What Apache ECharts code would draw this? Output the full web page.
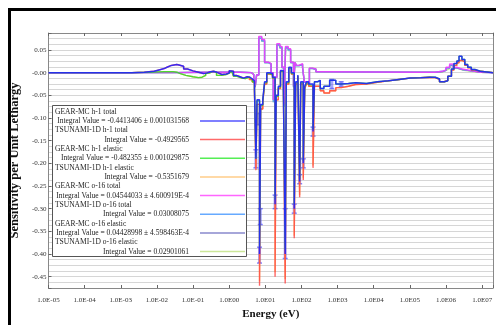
<!DOCTYPE html>
<html>
<head>
<meta charset="utf-8" />
<title>Sensitivity per Unit Lethargy</title>
<script src="https://cdn.jsdelivr.net/npm/echarts@6/dist/echarts.min.js"></script>
<style>
  html, body { margin: 0; padding: 0; background: #fff; }
  #main { width: 496px; height: 325px; }
</style>
</head>
<body>
<div id="main"></div>
<script type="text/javascript">
// energies are log10(E / eV), values are sensitivity per unit lethargy
var xTickLabels = ['1.0E-05', '1.0E-04', '1.0E-03', '1.0E-02', '1.0E-01', '1.0E00', '1.0E01',
                   '1.0E02', '1.0E03', '1.0E04', '1.0E05', '1.0E06', '1.0E07'];
var yTickValues = [-0.45, -0.40, -0.35, -0.30, -0.25, -0.20, -0.15, -0.10, -0.05, 0, 0.05];
var yTickLabels = ['-0.45', '-0.40', '-0.35', '-0.30', '-0.25', '-0.20', '-0.15', '-0.10', '-0.05', '-0.00', '0.05'];

var seriesNames = ['GEAR-MC h-1 total', 'TSUNAMI-1D h-1 total', 'GEAR-MC h-1 elastic', 'TSUNAMI-1D h-1 elastic',
                   'GEAR-MC o-16 total', 'TSUNAMI-1D o-16 total', 'GEAR-MC o-16 elastic', 'TSUNAMI-1D o-16 elastic'];
var integralTexts = ['Integral Value = -0.4413406 \u00b1 0.001031568', 'Integral Value = -0.4929565',
                     'Integral Value = -0.482355 \u00b1 0.001029875', 'Integral Value = -0.5351679',
                     'Integral Value = 0.04544033 \u00b1 4.600919E-4', 'Integral Value = 0.03008075',
                     'Integral Value = 0.04428998 \u00b1 4.598463E-4', 'Integral Value = 0.02901061'];

var gearH1Total = [[-5,0],[-2.7,0.001],[-2.35,0.003],[-2.08,0.006],[-1.94,0.009],[-1.8,0.012],[-1.72,0.016],[-1.6,0.018],
  [-1.45,0.017],[-1.39,0.014],[-1.26,0.008],[-1.15,0.004],[-1.0,0.001],[-0.85,-0.002],[-0.71,-0.001],[-0.62,0.002],
  [-0.52,0.003],[-0.42,0.0],[-0.32,-0.004],[-0.2,-0.003],[-0.08,-0.001],[0.0,0.004],[0.05,0.003],[0.12,-0.006],
  [0.2,-0.009],[0.3,-0.012],[0.4,-0.009],[0.5,-0.01],[0.57,-0.014],[0.64,-0.018],[0.70,-0.035],[0.74,-0.19],
  [0.77,-0.06],[0.84,-0.40],[0.87,-0.07],[0.93,-0.06],[0.98,-0.02],[1.04,0.0],[1.12,-0.002],[1.20,-0.01],
  [1.27,-0.29],[1.30,-0.05],[1.36,-0.03],[1.42,0.005],[1.50,-0.03],[1.55,-0.40],[1.58,-0.02],[1.65,0.012],
  [1.72,0.0],[1.80,-0.30],[1.84,-0.02],[1.90,-0.005],[1.95,-0.24],[1.98,-0.02],[2.05,-0.20],[2.09,-0.03],
  [2.14,-0.02],[2.20,-0.025],[2.32,-0.13],[2.36,-0.02],[2.45,-0.017],[2.52,-0.035],[2.62,-0.03],[2.78,-0.017],
  [2.95,-0.025],[3.1,-0.024],[3.3,-0.022],[3.5,-0.024],[3.8,-0.02],[4.1,-0.018],[4.4,-0.015],[4.7,-0.012],
  [5.0,-0.011],[5.3,-0.01],[5.55,-0.01],[5.7,-0.014],[5.82,-0.02],[5.95,-0.018],[6.05,-0.008],[6.15,0.008],
  [6.22,0.02],[6.3,0.026],[6.36,0.036],[6.44,0.029],[6.52,0.018],[6.6,0.012],[6.7,0.007],[6.8,0.003],[6.95,0],[7.3,0]];

var tsunamiH1Total = [[-5,0],[-2.7,0.001],[-2.35,0.003],[-2.08,0.006],[-1.94,0.009],[-1.8,0.012],[-1.72,0.016],[-1.6,0.018],
  [-1.45,0.017],[-1.39,0.014],[-1.26,0.008],[-1.15,0.004],[-1.0,0.001],[-0.85,-0.002],[-0.71,-0.001],[-0.62,0.002],
  [-0.52,0.003],[-0.42,0.0],[-0.32,-0.004],[-0.2,-0.003],[-0.08,-0.001],[0.0,0.004],[0.05,0.003],[0.12,-0.006],
  [0.2,-0.009],[0.3,-0.012],[0.4,-0.009],[0.5,-0.01],[0.57,-0.015],[0.64,-0.02],[0.70,-0.04],[0.74,-0.215],
  [0.77,-0.07],[0.84,-0.47],[0.87,-0.08],[0.93,-0.065],[0.98,-0.025],[1.04,-0.003],[1.12,-0.005],[1.20,-0.012],
  [1.27,-0.45],[1.30,-0.06],[1.36,-0.035],[1.42,0.003],[1.50,-0.035],[1.55,-0.465],[1.58,-0.025],[1.65,0.01],
  [1.72,-0.003],[1.80,-0.365],[1.84,-0.025],[1.90,-0.008],[1.95,-0.275],[1.98,-0.025],[2.05,-0.237],[2.09,-0.035],
  [2.14,-0.025],[2.20,-0.03],[2.32,-0.21],[2.36,-0.03],[2.45,-0.03],[2.52,-0.04],[2.62,-0.045],[2.78,-0.04],
  [2.95,-0.033],[3.1,-0.03],[3.3,-0.026],[3.5,-0.025],[3.8,-0.021],[4.1,-0.018],[4.4,-0.015],[4.7,-0.012],
  [5.0,-0.011],[5.3,-0.01],[5.55,-0.011],[5.7,-0.015],[5.82,-0.02],[5.95,-0.017],[6.05,-0.008],[6.15,0.006],
  [6.22,0.016],[6.3,0.022],[6.36,0.027],[6.44,0.024],[6.52,0.016],[6.6,0.011],[6.7,0.006],[6.8,0.003],[6.95,0],[7.3,0]];

var gearH1Elastic = [[-5,0],[-2.7,0.001],[-2.2,0.002],[-1.8,0.002],[-1.55,0.001],[-1.45,-0.002],[-1.35,-0.006],
  [-1.2,-0.009],[-1.0,-0.011],[-0.85,-0.01],[-0.75,-0.006],[-0.65,-0.001],[-0.55,0.003],[-0.45,0.001],[-0.35,-0.006],
  [-0.22,-0.004],[-0.08,-0.001],[0.0,0.003],[0.07,0.001],[0.12,-0.008],[0.22,-0.012],[0.35,-0.013],[0.45,-0.01],
  [0.55,-0.014],[0.64,-0.02],[0.70,-0.036],[0.74,-0.19],[0.77,-0.062],[0.84,-0.385],[0.87,-0.072],[0.93,-0.062],
  [0.98,-0.022],[1.04,-0.002],[1.12,-0.004],[1.20,-0.012],[1.27,-0.28],[1.30,-0.052],[1.36,-0.032],[1.42,0.003],
  [1.50,-0.032],[1.55,-0.39],[1.58,-0.022],[1.65,0.01],[1.72,-0.002],[1.80,-0.29],[1.84,-0.022],[1.90,-0.007],
  [1.95,-0.235],[1.98,-0.022],[2.05,-0.195],[2.09,-0.032],[2.14,-0.022],[2.20,-0.027],[2.32,-0.125],[2.36,-0.02],
  [2.45,-0.017],[2.52,-0.035],[2.62,-0.03],[2.78,-0.017],[2.95,-0.025],[3.1,-0.024],[3.3,-0.022],[3.5,-0.024],
  [3.8,-0.02],[4.1,-0.018],[4.4,-0.015],[4.7,-0.012],[5.0,-0.011],[5.3,-0.01],[5.55,-0.01],[5.7,-0.014],
  [5.82,-0.02],[5.95,-0.018],[6.05,-0.008],[6.15,0.008],[6.22,0.02],[6.3,0.026],[6.36,0.036],[6.44,0.029],
  [6.52,0.018],[6.6,0.012],[6.7,0.007],[6.8,0.003],[6.95,0],[7.3,0]];

var tsunamiH1Elastic = [[-5,0],[-2.7,0.001],[-2.2,0.002],[-1.8,0.002],[-1.55,0.001],[-1.45,-0.002],[-1.35,-0.006],
  [-1.2,-0.009],[-1.0,-0.011],[-0.85,-0.01],[-0.75,-0.006],[-0.65,-0.001],[-0.55,0.003],[-0.45,0.001],[-0.35,-0.006],
  [-0.22,-0.004],[-0.08,-0.001],[0.0,0.003],[0.07,0.001],[0.12,-0.008],[0.22,-0.012],[0.35,-0.013],[0.45,-0.01],
  [0.55,-0.015],[0.64,-0.021],[0.70,-0.04],[0.74,-0.21],[0.77,-0.07],[0.84,-0.46],[0.87,-0.08],[0.93,-0.065],
  [0.98,-0.025],[1.04,-0.003],[1.12,-0.005],[1.20,-0.012],[1.27,-0.44],[1.30,-0.06],[1.36,-0.035],[1.42,0.003],
  [1.50,-0.035],[1.55,-0.455],[1.58,-0.025],[1.65,0.01],[1.72,-0.003],[1.80,-0.36],[1.84,-0.025],[1.90,-0.008],
  [1.95,-0.27],[1.98,-0.025],[2.05,-0.232],[2.09,-0.035],[2.14,-0.025],[2.20,-0.03],[2.32,-0.205],[2.36,-0.03],
  [2.45,-0.03],[2.52,-0.04],[2.62,-0.045],[2.78,-0.04],[2.95,-0.033],[3.1,-0.03],[3.3,-0.026],[3.5,-0.025],
  [3.8,-0.021],[4.1,-0.018],[4.4,-0.015],[4.7,-0.012],[5.0,-0.011],[5.3,-0.01],[5.55,-0.011],[5.7,-0.015],
  [5.82,-0.02],[5.95,-0.017],[6.05,-0.008],[6.15,0.006],[6.22,0.016],[6.3,0.022],[6.36,0.027],[6.44,0.024],
  [6.52,0.016],[6.6,0.011],[6.7,0.006],[6.8,0.003],[6.95,0],[7.3,0]];

var gearO16Total = [[-5,0],[-1.6,0.001],[-0.5,0.001],[0.3,0.0],[0.62,-0.004],[0.68,-0.014],[0.72,-0.03],[0.76,-0.005],
  [0.82,0.08],[0.90,0.073],[0.98,0.023],[1.08,0.02],[1.16,0.0],[1.22,-0.06],[1.26,-0.01],[1.32,0.064],[1.40,0.058],
  [1.46,0.012],[1.52,-0.07],[1.56,0.058],[1.63,0.053],[1.70,0.023],[1.78,-0.03],[1.82,0.023],[1.86,0.016],
  [1.93,0.012],[1.98,0.02],[2.03,0.012],[2.08,-0.02],[2.14,-0.024],[2.22,0.01],[2.30,0.008],[2.40,0.002],
  [2.6,0.001],[5.3,0.001],[5.7,0.003],[5.9,0.006],[6.0,0.012],[6.1,0.019],[6.2,0.012],[6.3,0.008],[6.45,0.006],
  [6.6,0.003],[6.8,0.001],[6.95,0],[7.3,0]];

var tsunamiO16Total = [[-5,0],[-1.6,0.001],[-0.5,0.001],[0.3,0.0],[0.62,-0.004],[0.68,-0.015],[0.72,-0.032],[0.76,-0.005],
  [0.82,0.076],[0.90,0.07],[0.98,0.022],[1.08,0.019],[1.16,0.0],[1.22,-0.065],[1.26,-0.01],[1.32,0.061],[1.40,0.055],
  [1.46,0.011],[1.52,-0.075],[1.56,0.055],[1.63,0.05],[1.70,0.022],[1.78,-0.032],[1.82,0.022],[1.86,0.015],
  [1.93,0.011],[1.98,0.018],[2.03,0.011],[2.08,-0.021],[2.14,-0.025],[2.22,0.009],[2.30,0.007],[2.40,0.002],
  [2.6,0.001],[5.3,0.001],[5.7,0.003],[5.9,0.005],[6.0,0.011],[6.1,0.017],[6.2,0.011],[6.3,0.007],[6.45,0.005],
  [6.6,0.003],[6.8,0.001],[6.95,0],[7.3,0]];

var gearO16Elastic = [[-5,0],[-1.6,0.001],[-0.5,0.001],[0.3,0.0],[0.62,-0.004],[0.68,-0.014],[0.72,-0.03],[0.76,-0.005],
  [0.82,0.079],[0.90,0.072],[0.98,0.023],[1.08,0.02],[1.16,0.0],[1.22,-0.06],[1.26,-0.01],[1.32,0.063],[1.40,0.057],
  [1.46,0.012],[1.52,-0.07],[1.56,0.057],[1.63,0.052],[1.70,0.023],[1.78,-0.03],[1.82,0.023],[1.86,0.016],
  [1.93,0.012],[1.98,0.019],[2.03,0.012],[2.08,-0.02],[2.14,-0.024],[2.22,0.01],[2.30,0.008],[2.40,0.002],
  [2.6,0.001],[5.3,0.001],[5.7,0.002],[5.9,0.005],[6.0,0.01],[6.1,0.016],[6.2,0.01],[6.3,0.007],[6.45,0.005],
  [6.6,0.003],[6.8,0.001],[6.95,0],[7.3,0]];

var tsunamiO16Elastic = [[-5,0],[-1.6,0.001],[-0.5,0.001],[0.3,0.0],[0.62,-0.004],[0.68,-0.015],[0.72,-0.032],[0.76,-0.005],
  [0.82,0.075],[0.90,0.069],[0.98,0.022],[1.08,0.019],[1.16,0.0],[1.22,-0.065],[1.26,-0.01],[1.32,0.06],[1.40,0.054],
  [1.46,0.011],[1.52,-0.075],[1.56,0.054],[1.63,0.049],[1.70,0.022],[1.78,-0.032],[1.82,0.022],[1.86,0.015],
  [1.93,0.011],[1.98,0.018],[2.03,0.011],[2.08,-0.021],[2.14,-0.025],[2.22,0.009],[2.30,0.007],[2.40,0.002],
  [2.6,0.001],[5.3,0.001],[5.7,0.002],[5.9,0.005],[6.0,0.009],[6.1,0.015],[6.2,0.01],[6.3,0.006],[6.45,0.004],
  [6.6,0.002],[6.8,0.001],[6.95,0],[7.3,0]];

// [log10 E, low, high] error bars on the GEAR-MC h-1 total curve
var gearH1TotalErr = [[0.74,-0.21,-0.17],[0.79,-0.115,-0.09],[0.84,-0.42,-0.385],[0.86,-0.335,-0.30],
  [1.27,-0.30,-0.27],[1.55,-0.41,-0.30],[1.80,-0.31,-0.29],[1.95,-0.245,-0.225],[2.05,-0.21,-0.19],
  [2.32,-0.14,-0.12],[2.84,-0.035,-0.015],[3.1,-0.03,-0.02]];

var seriesData = [gearH1Total, tsunamiH1Total, gearH1Elastic, tsunamiH1Elastic,
                  gearO16Total, tsunamiO16Total, gearO16Elastic, tsunamiO16Elastic];
var lineColors = ['#2222ff', '#ff4040', '#22dd22', '#ffb347', '#ff33ff', '#4499ff', '#7777bb', '#b8d878'];
var legendColors = ['#5555ff', '#ff6a6a', '#55ee55', '#ffcc88', '#ff66ff', '#66aaff', '#8888cc', '#cce699'];
// back to front
var drawOrder = [3, 7, 6, 5, 4, 1, 2, 0];

var serif = '"Liberation Serif", "DejaVu Serif", serif';
var yMin = -0.475, yMax = 0.0875;

var series = [];
drawOrder.forEach(function (i) {
  series.push({
    name: seriesNames[i],
    type: 'line',
    step: 'end',
    xAxisIndex: 0,
    yAxisIndex: 0,
    showSymbol: false,
    data: seriesData[i],
    lineStyle: { color: lineColors[i], width: i === 0 ? 1.5 : 1.4, opacity: i === 0 ? 0.9 : 0.8 },
    itemStyle: { color: lineColors[i] }
  });
});
series.push({
  name: 'error',
  type: 'custom',
  xAxisIndex: 0,
  yAxisIndex: 0,
  data: gearH1TotalErr,
  encode: { x: 0, y: [1, 2] },
  renderItem: function (params, api) {
    var lo = api.coord([api.value(0), api.value(1)]);
    var hi = api.coord([api.value(0), api.value(2)]);
    var st = { stroke: 'rgba(50,50,255,0.6)', lineWidth: 1.5 };
    return {
      type: 'group',
      children: [
        { type: 'line', shape: { x1: lo[0], y1: lo[1], x2: hi[0], y2: hi[1] }, style: { stroke: 'rgba(60,60,255,0.45)', lineWidth: 3 } },
        { type: 'line', shape: { x1: lo[0] - 2.5, y1: lo[1], x2: lo[0] + 2.5, y2: lo[1] }, style: st },
        { type: 'line', shape: { x1: hi[0] - 2.5, y1: hi[1], x2: hi[0] + 2.5, y2: hi[1] }, style: st }
      ]
    };
  }
});

// legend box, drawn as graphic so the sample sits on the "Integral Value" line
var graphics = [
  { type: 'rect', z: 0, silent: true, shape: { x: 9.5, y: 9.5, width: 520, height: 340 },
    style: { fill: 'none', stroke: '#000', lineWidth: 3 } },
  { type: 'rect', z: 100, shape: { x: 52.5, y: 105.5, width: 194, height: 151 },
    style: { fill: '#fff', stroke: '#555', lineWidth: 1 } }
];
for (var i = 0; i < seriesNames.length; i++) {
  var y1 = 111.7 + 18.67 * i;
  var y2 = 120.9 + 18.67 * i;
  graphics.push({ type: 'text', z: 101, style: { text: seriesNames[i], x: 55, y: y1, font: '7.5px ' + serif,
    fill: '#222', align: 'left', verticalAlign: 'middle' } });
  graphics.push({ type: 'text', z: 101, style: { text: integralTexts[i], x: 189, y: y2, font: '7.5px ' + serif,
    fill: '#222', align: 'right', verticalAlign: 'middle' } });
  graphics.push({ type: 'line', z: 101, shape: { x1: 200, y1: y2, x2: 245, y2: y2 },
    style: { stroke: legendColors[i], lineWidth: 1.5 } });
}

var myChart = echarts.init(document.getElementById('main'));
var option = {
  animation: false,
  backgroundColor: '#fff',
  grid: { left: 43, right: 3, top: 33, bottom: 37 },
  xAxis: [{
    type: 'value',
    position: 'bottom',
    min: -5,
    max: 7.3,
    interval: 1,
    name: 'Energy (eV)',
    nameLocation: 'middle',
    nameGap: 20,
    nameTextStyle: { fontFamily: serif, fontWeight: 'bold', fontSize: 11, color: '#111' },
    axisLine: { onZero: false, lineStyle: { color: '#888' } },
    axisTick: { inside: true, length: 3, lineStyle: { color: '#666' } },
    axisLabel: {
      margin: 9, fontFamily: serif, fontSize: 7, color: '#333',
      formatter: function (v) {
        var k = Math.round(v + 5);
        return Math.abs(v + 5 - k) < 1e-6 && xTickLabels[k] ? xTickLabels[k] : '';
      }
    },
    splitLine: { show: false }
  }, {
    type: 'value',
    position: 'top',
    min: -5,
    max: 7.3,
    interval: 1,
    axisLine: { onZero: false, lineStyle: { color: '#888' } },
    axisTick: { inside: true, length: 3, lineStyle: { color: '#666' } },
    axisLabel: { show: false },
    splitLine: { show: false }
  }],
  yAxis: [{
    type: 'value',
    position: 'left',
    min: yMin,
    max: yMax,
    splitNumber: 11,
    minInterval: 0.05,
    maxInterval: 0.05,
    name: 'Sensitivity per Unit Lethargy',
    nameLocation: 'middle',
    nameGap: 20,
    nameTextStyle: { fontFamily: serif, fontWeight: 'bold', fontSize: 12.5, color: '#111' },
    axisLine: { show: true, onZero: false, lineStyle: { color: '#888' } },
    axisTick: { show: true, inside: true, length: 3, lineStyle: { color: '#666' } },
    axisLabel: {
      margin: 2, fontFamily: serif, fontSize: 7, color: '#333',
      formatter: function (v) {
        for (var j = 0; j < yTickValues.length; j++) {
          if (Math.abs(yTickValues[j] - v) < 1e-6) return yTickLabels[j];
        }
        return '';
      }
    },
    splitLine: { show: false }
  }, {
    type: 'value',
    position: 'right',
    min: yMin,
    max: yMax,
    interval: 0.0125,
    axisLine: { show: true, onZero: false, lineStyle: { color: '#888' } },
    axisTick: { show: false },
    axisLabel: { show: false },
    splitLine: { show: true, lineStyle: { color: '#d6d6d6', width: 1 } }
  }],
  series: series,
  graphic: graphics
};
myChart.setOption(option);
</script>
</body>
</html>
